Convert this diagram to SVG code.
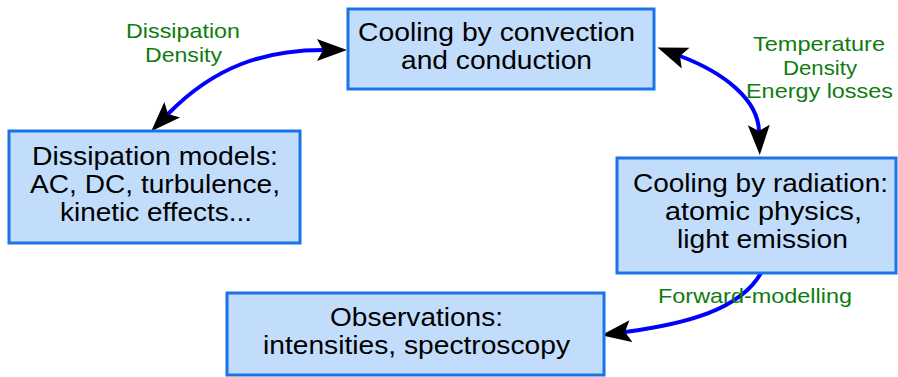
<svg xmlns="http://www.w3.org/2000/svg" width="898" height="377" viewBox="0 0 898 377">
<style>
.box{fill:#c2ddfc;stroke:#1a74e6;stroke-width:3}
.t{font-family:"Liberation Sans",Arial,sans-serif;font-size:25.5px;fill:#000;text-anchor:middle}
.lbl{font-family:"Liberation Sans",Arial,sans-serif;font-size:21px;fill:#0f7c0f;text-anchor:middle}
.c{fill:none;stroke:#0000ff;stroke-width:4}
</style>
<defs>
<marker id="ah" viewBox="0 -12 31 24" markerWidth="31" markerHeight="24" refX="6" refY="0" orient="auto-start-reverse" markerUnits="userSpaceOnUse">
<path d="M0,-11 L30,0 L0,11 L6,0 Z" fill="#000"/>
</marker>
</defs>
<rect width="898" height="377" fill="#fff"/>
<g id="connectors">
<path class="c" d="M168,114 C215,66 265,50 323,50" marker-start="url(#ah)" marker-end="url(#ah)"/>
<path class="c" d="M680,56 C725,73 758,100 759,131" marker-start="url(#ah)" marker-end="url(#ah)"/>
<path class="c" d="M761,273 C740,310 685,324 625,332" marker-end="url(#ah)"/>
</g>
<g id="convection">
<rect class="box" x="348" y="9" width="306" height="80"/>
<text class="t" x="496.5" y="41" textLength="277" lengthAdjust="spacingAndGlyphs">Cooling by convection</text>
<text class="t" x="496.5" y="69" textLength="191" lengthAdjust="spacingAndGlyphs">and conduction</text>
</g>
<g id="dissipation">
<rect class="box" x="9" y="131" width="291" height="112"/>
<text class="t" x="155" y="165" textLength="246" lengthAdjust="spacingAndGlyphs">Dissipation models:</text>
<text class="t" x="155" y="193" textLength="250" lengthAdjust="spacingAndGlyphs">AC, DC, turbulence,</text>
<text class="t" x="156" y="221" textLength="192" lengthAdjust="spacingAndGlyphs">kinetic effects...</text>
</g>
<g id="radiation">
<rect class="box" x="617" y="158" width="279" height="115"/>
<text class="t" x="760.5" y="192" textLength="255" lengthAdjust="spacingAndGlyphs">Cooling by radiation:</text>
<text class="t" x="763.5" y="220" textLength="197" lengthAdjust="spacingAndGlyphs">atomic physics,</text>
<text class="t" x="762.5" y="248" textLength="171" lengthAdjust="spacingAndGlyphs">light emission</text>
</g>
<g id="observations">
<rect class="box" x="227" y="293" width="377" height="82"/>
<text class="t" x="416.5" y="326" textLength="173" lengthAdjust="spacingAndGlyphs">Observations:</text>
<text class="t" x="416.5" y="354" textLength="307" lengthAdjust="spacingAndGlyphs">intensities, spectroscopy</text>
</g>
<g id="labels">
<text class="lbl" x="183" y="38" textLength="114" lengthAdjust="spacingAndGlyphs">Dissipation</text>
<text class="lbl" x="183.5" y="62" textLength="77" lengthAdjust="spacingAndGlyphs">Density</text>
<text class="lbl" x="819" y="51" textLength="132" lengthAdjust="spacingAndGlyphs">Temperature</text>
<text class="lbl" x="820" y="75" textLength="74" lengthAdjust="spacingAndGlyphs">Density</text>
<text class="lbl" x="819.5" y="98" textLength="147" lengthAdjust="spacingAndGlyphs">Energy losses</text>
<text class="lbl" x="755" y="303" textLength="194" lengthAdjust="spacingAndGlyphs">Forward-modelling</text>
</g>
</svg>
